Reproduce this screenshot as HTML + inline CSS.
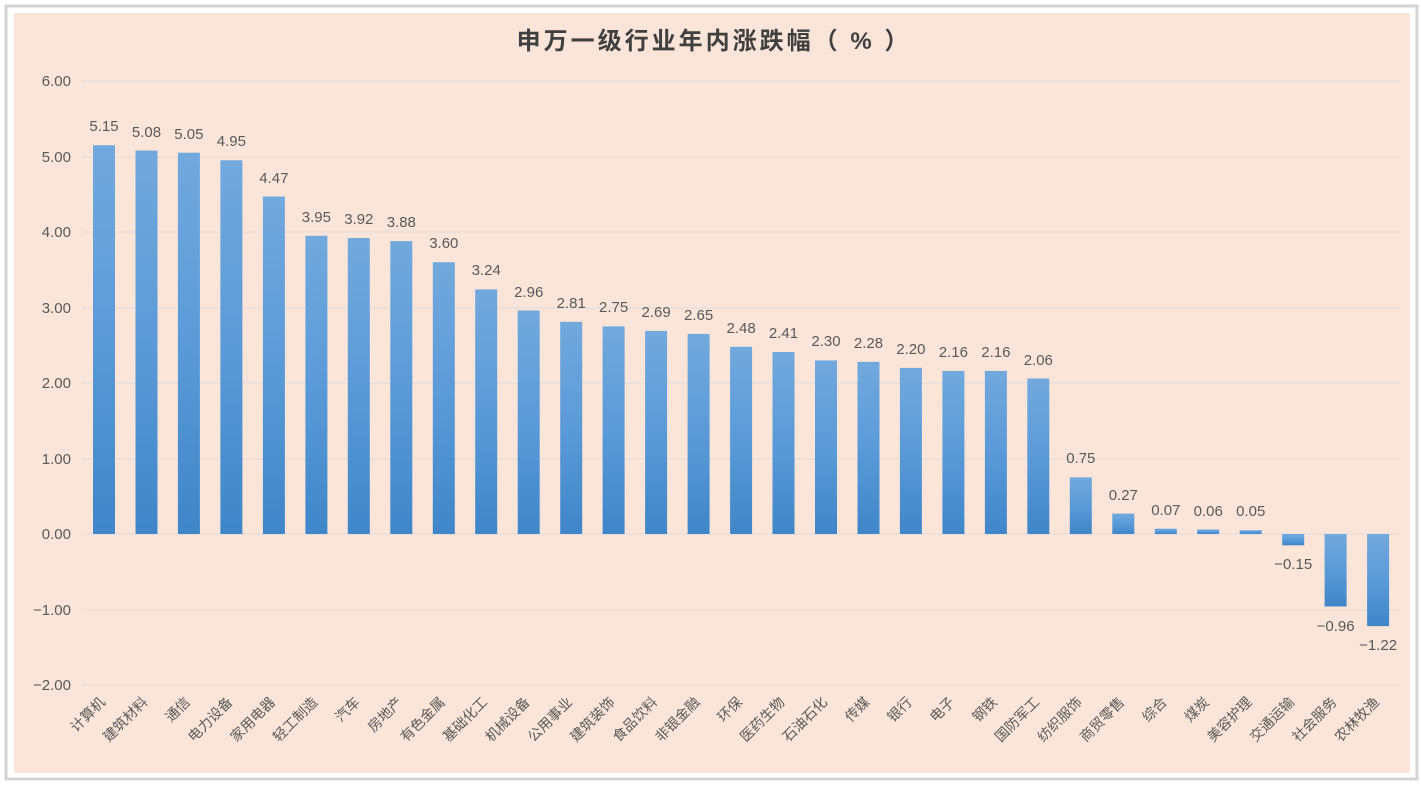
<!DOCTYPE html>
<html><head><meta charset="utf-8"><style>
body{margin:0;background:#fff;}
svg{display:block;font-family:"Liberation Sans","Noto Sans CJK SC",sans-serif;}
</style></head><body>
<svg width="1421" height="787" viewBox="0 0 1421 787">
<defs><linearGradient id="g" x1="0" y1="0" x2="0" y2="1"><stop offset="0" stop-color="#72a9dd"/><stop offset="0.5" stop-color="#5b9ad8"/><stop offset="1" stop-color="#3f86c8"/></linearGradient></defs>
<rect x="6" y="6" width="1411" height="773" fill="#fff" stroke="#d4d4d4" stroke-width="3"/>
<rect x="14" y="13" width="1396" height="760" fill="#fae5d8"/>
<text x="714" y="49" text-anchor="middle" font-size="24" font-weight="bold" fill="#404040" letter-spacing="3">申万一级行业年内涨跌幅（ % ）</text>
<g stroke="#e6dfdc" stroke-width="1.5">
<line x1="82" x2="1400" y1="81" y2="81"/><line x1="82" x2="1400" y1="157" y2="157"/><line x1="82" x2="1400" y1="232" y2="232"/><line x1="82" x2="1400" y1="308" y2="308"/><line x1="82" x2="1400" y1="383" y2="383"/><line x1="82" x2="1400" y1="459" y2="459"/><line x1="82" x2="1400" y1="534" y2="534"/><line x1="82" x2="1400" y1="610" y2="610"/><line x1="82" x2="1400" y1="685" y2="685"/>
</g>
<g font-size="15" fill="#595959" text-anchor="end">
<text x="71" y="86">6.00</text><text x="71" y="162">5.00</text><text x="71" y="237">4.00</text><text x="71" y="313">3.00</text><text x="71" y="388">2.00</text><text x="71" y="464">1.00</text><text x="71" y="539">0.00</text><text x="71" y="615">−1.00</text><text x="71" y="690">−2.00</text>
</g>
<g fill="url(#g)">
<rect x="93" y="145.2" width="22" height="388.8"/>
<rect x="135.5" y="150.5" width="22" height="383.5"/>
<rect x="177.9" y="152.7" width="22" height="381.3"/>
<rect x="220.4" y="160.3" width="22" height="373.7"/>
<rect x="262.9" y="196.5" width="22" height="337.5"/>
<rect x="305.4" y="235.8" width="22" height="298.2"/>
<rect x="347.8" y="238" width="22" height="296"/>
<rect x="390.3" y="241.1" width="22" height="292.9"/>
<rect x="432.8" y="262.2" width="22" height="271.8"/>
<rect x="475.2" y="289.4" width="22" height="244.6"/>
<rect x="517.7" y="310.5" width="22" height="223.5"/>
<rect x="560.2" y="321.8" width="22" height="212.2"/>
<rect x="602.6" y="326.4" width="22" height="207.6"/>
<rect x="645.1" y="330.9" width="22" height="203.1"/>
<rect x="687.6" y="333.9" width="22" height="200.1"/>
<rect x="730.1" y="346.8" width="22" height="187.2"/>
<rect x="772.5" y="352" width="22" height="182"/>
<rect x="815" y="360.4" width="22" height="173.6"/>
<rect x="857.5" y="361.9" width="22" height="172.1"/>
<rect x="899.9" y="367.9" width="22" height="166.1"/>
<rect x="942.4" y="370.9" width="22" height="163.1"/>
<rect x="984.9" y="370.9" width="22" height="163.1"/>
<rect x="1027.3" y="378.5" width="22" height="155.5"/>
<rect x="1069.8" y="477.4" width="22" height="56.6"/>
<rect x="1112.3" y="513.6" width="22" height="20.4"/>
<rect x="1154.8" y="528.7" width="22" height="5.3"/>
<rect x="1197.2" y="529.5" width="22" height="4.5"/>
<rect x="1239.7" y="530.2" width="22" height="3.8"/>
<rect x="1282.2" y="534" width="22" height="11.3"/>
<rect x="1324.6" y="534" width="22" height="72.5"/>
<rect x="1367.1" y="534" width="22" height="92.1"/>
</g>
<g font-size="15" fill="#595959" text-anchor="middle">
<text x="104" y="131">5.15</text><text x="146.5" y="137">5.08</text><text x="188.9" y="139">5.05</text><text x="231.4" y="146">4.95</text><text x="273.9" y="183">4.47</text><text x="316.4" y="222">3.95</text><text x="358.8" y="224">3.92</text><text x="401.3" y="227">3.88</text><text x="443.8" y="248">3.60</text><text x="486.2" y="275">3.24</text><text x="528.7" y="297">2.96</text><text x="571.2" y="308">2.81</text><text x="613.6" y="312">2.75</text><text x="656.1" y="317">2.69</text><text x="698.6" y="320">2.65</text><text x="741.1" y="333">2.48</text><text x="783.5" y="338">2.41</text><text x="826" y="346">2.30</text><text x="868.5" y="348">2.28</text><text x="910.9" y="354">2.20</text><text x="953.4" y="357">2.16</text><text x="995.9" y="357">2.16</text><text x="1038.3" y="365">2.06</text><text x="1080.8" y="463">0.75</text><text x="1123.3" y="500">0.27</text><text x="1165.8" y="515">0.07</text><text x="1208.2" y="516">0.06</text><text x="1250.7" y="516">0.05</text><text x="1293.2" y="569">−0.15</text><text x="1335.6" y="631">−0.96</text><text x="1378.1" y="650">−1.22</text>
</g>
<g font-size="14" fill="#595959" text-anchor="end">
<text transform="translate(106,703) rotate(-45)">计算机</text>
<text transform="translate(148.5,703) rotate(-45)">建筑材料</text>
<text transform="translate(190.9,703) rotate(-45)">通信</text>
<text transform="translate(233.4,703) rotate(-45)">电力设备</text>
<text transform="translate(275.9,703) rotate(-45)">家用电器</text>
<text transform="translate(318.4,703) rotate(-45)">轻工制造</text>
<text transform="translate(360.8,703) rotate(-45)">汽车</text>
<text transform="translate(403.3,703) rotate(-45)">房地产</text>
<text transform="translate(445.8,703) rotate(-45)">有色金属</text>
<text transform="translate(488.2,703) rotate(-45)">基础化工</text>
<text transform="translate(530.7,703) rotate(-45)">机械设备</text>
<text transform="translate(573.2,703) rotate(-45)">公用事业</text>
<text transform="translate(615.6,703) rotate(-45)">建筑装饰</text>
<text transform="translate(658.1,703) rotate(-45)">食品饮料</text>
<text transform="translate(700.6,703) rotate(-45)">非银金融</text>
<text transform="translate(743.1,703) rotate(-45)">环保</text>
<text transform="translate(785.5,703) rotate(-45)">医药生物</text>
<text transform="translate(828,703) rotate(-45)">石油石化</text>
<text transform="translate(870.5,703) rotate(-45)">传媒</text>
<text transform="translate(912.9,703) rotate(-45)">银行</text>
<text transform="translate(955.4,703) rotate(-45)">电子</text>
<text transform="translate(997.9,703) rotate(-45)">钢铁</text>
<text transform="translate(1040.3,703) rotate(-45)">国防军工</text>
<text transform="translate(1082.8,703) rotate(-45)">纺织服饰</text>
<text transform="translate(1125.3,703) rotate(-45)">商贸零售</text>
<text transform="translate(1167.8,703) rotate(-45)">综合</text>
<text transform="translate(1210.2,703) rotate(-45)">煤炭</text>
<text transform="translate(1252.7,703) rotate(-45)">美容护理</text>
<text transform="translate(1295.2,703) rotate(-45)">交通运输</text>
<text transform="translate(1337.6,703) rotate(-45)">社会服务</text>
<text transform="translate(1380.1,703) rotate(-45)">农林牧渔</text>
</g>
</svg>
</body></html>
